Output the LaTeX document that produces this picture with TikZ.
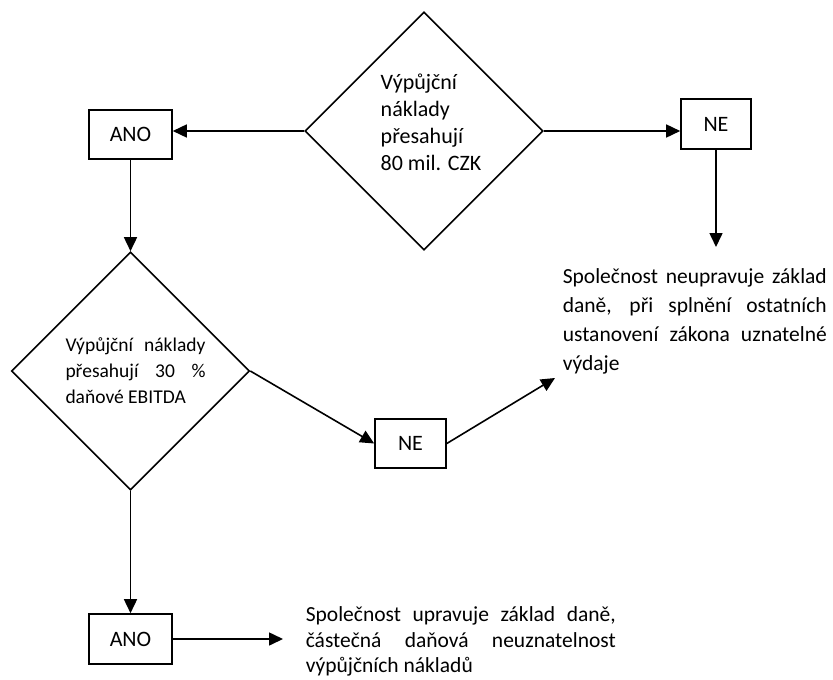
\documentclass[tikz,border=0pt]{standalone}
\usepackage{fontspec}
\setmainfont{Carlito}
\usetikzlibrary{positioning,shapes.geometric,arrows.meta}
\newcommand{\fullline}[2]{\makebox[#1][s]{#2}}

\begin{document}
\begin{tikzpicture}[x=1pt,y=-1pt,line width=1.6pt,
  >={Triangle[length=14pt,width=13pt]},
  answer/.style={draw,inner sep=0pt,minimum height=49pt,font=\fontsize{22}{26}\selectfont},
  question/.style={draw,diamond,inner sep=0pt,minimum width=238pt,minimum height=238pt},
  result/.style={inner sep=0pt,anchor=north west,align=left}]
\useasboundingbox (0,0) rectangle (833,680);
% questions
\node[question] (d1) at (424,131) {};
\node[font=\fontsize{22}{27}\selectfont,align=left,inner sep=0pt] (d1txt)
  at ([xshift=7pt,yshift=9pt]d1.center) {Výpůjční\\náklady\\přesahují\\80 mil. CZK};
\node[question] (d2) at (130.5,371) {};
\node[font=\fontsize{19.5}{26}\selectfont,align=left,inner sep=0pt] (d2txt)
  at ([xshift=5pt]d2.center)
  {\fullline{140pt}{Výpůjční náklady}\\\fullline{140pt}{přesahují 30 \%}\\daňové EBITDA};
% answers
\node[answer,minimum width=83pt] (ano1) at (130.5,134.5) {ANO};
\node[answer,minimum width=70pt,minimum height=50pt] (ne1) at (716,124) {NE};
\node[answer,minimum width=71pt] (ne2) at (410.5,443.5) {NE};
\node[answer,minimum width=83pt,minimum height=50pt] (ano2) at (130.5,639) {ANO};
% results
\node[result,font=\fontsize{21.5}{29}\selectfont] (r1) at (562,268)
  {\fullline{264pt}{Společnost neupravuje základ}\\\fullline{264pt}{daně, při splnění ostatních}\\
   \fullline{264pt}{ustanovení zákona uznatelné}\\výdaje};
\node[result,font=\fontsize{21.5}{25.5}\selectfont] (r2) at (305,606)
  {\fullline{310pt}{Společnost upravuje základ daně,}\\\fullline{310pt}{částečná daňová neuznatelnost}\\výpůjčních nákladů};
\coordinate (t1) at (718,247);
\coordinate (t2) at (555,378);
\coordinate (t3) at (283,644);
% arrows
\draw[->] (d1.west) -- (d1.west -| ano1.east);
\draw[->] (d1.east) -- (d1.east -| ne1.west);
\draw[->] (ne1.south) -- (ne1.south |- t1);
\draw[->] (ano1.south) -- (d2.north);
\draw[->] (d2.east) -- (ne2.west);
\draw[->] (ne2.east) -- (t2);
\draw[->] (d2.south) -- (ano2.north);
\draw[->] (ano2.east) -- (ano2.east -| t3);
\end{tikzpicture}
\end{document}
